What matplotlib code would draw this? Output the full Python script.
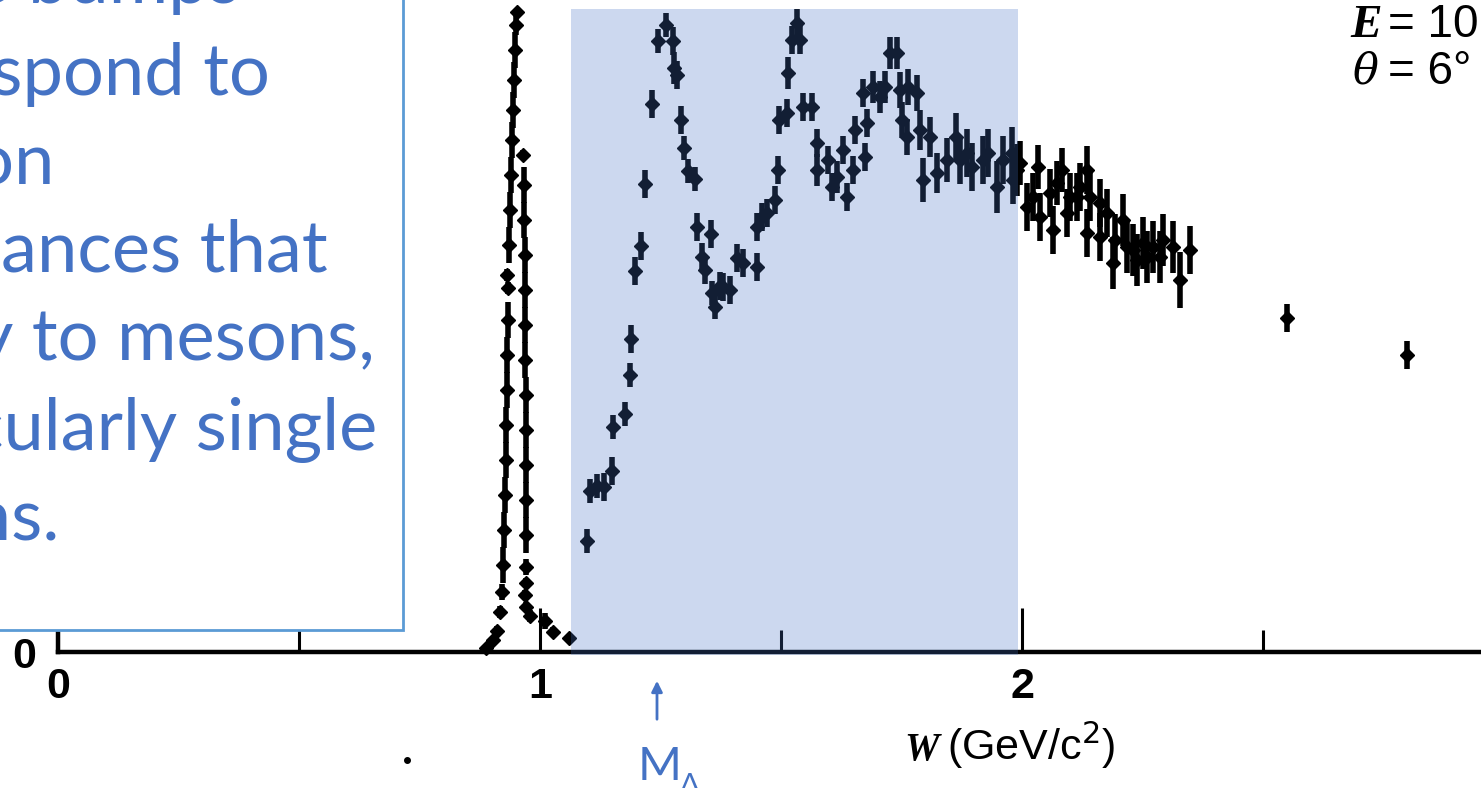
import matplotlib.pyplot as plt
from matplotlib.patches import Rectangle, FancyArrowPatch

# elastic peak (W in GeV/c^2, cross section in arbitrary units)
w_el = [0.888, 0.902, 0.911, 0.917, 0.921, 0.923, 0.925, 0.927, 0.929, 0.929,
        0.932, 0.932, 0.934, 0.934, 0.932, 0.936, 0.938, 0.940, 0.942, 0.944,
        0.946, 0.948, 0.950, 0.952,
        0.965, 0.967, 0.967, 0.969, 0.969, 0.969, 0.969, 0.971, 0.971, 0.971,
        0.971, 0.971, 0.971, 0.971, 0.969, 0.971, 0.979, 1.010, 1.027, 1.060]
y_el = [0.04, 0.12, 0.21, 0.40, 0.60, 0.87, 1.22, 1.57, 1.92, 2.27,
        2.62, 2.97, 3.32, 3.64, 3.77, 4.07, 4.42, 4.77, 5.12, 5.42,
        5.72, 6.02, 6.27, 6.40,
        4.97, 4.67, 4.32, 3.97, 3.62, 3.27, 2.92, 2.57, 2.22, 1.87,
        1.52, 1.17, 0.85, 0.69, 0.57, 0.45, 0.36, 0.31, 0.20, 0.14]
e_el = [0.03, 0.04, 0.05, 0.06, 0.08, 0.18, 0.18, 0.18, 0.18, 0.18,
        0.18, 0.18, 0.18, 0.06, 0.06, 0.18, 0.18, 0.18, 0.18, 0.18,
        0.18, 0.18, 0.10, 0.04,
        0.05, 0.18, 0.18, 0.18, 0.18, 0.18, 0.18, 0.18, 0.18, 0.18,
        0.18, 0.18, 0.08, 0.05, 0.05, 0.05, 0.06, 0.08, 0.05, 0.04]

# inelastic region
w_in = [1.098, 1.104, 1.118, 1.133, 1.149, 1.151, 1.176, 1.187, 1.189, 1.197,
        1.210, 1.218, 1.232, 1.245, 1.261, 1.276, 1.278, 1.284, 1.293, 1.299,
        1.307, 1.322, 1.326, 1.336, 1.342, 1.355, 1.357, 1.363, 1.373, 1.380,
        1.394, 1.409, 1.421, 1.450, 1.450, 1.461, 1.471, 1.488, 1.494, 1.496,
        1.512, 1.515, 1.523, 1.533, 1.539, 1.546, 1.564, 1.575, 1.575, 1.598,
        1.606, 1.616, 1.629, 1.637, 1.649, 1.654, 1.670, 1.674, 1.678, 1.691,
        1.705, 1.716, 1.726, 1.741, 1.747, 1.751, 1.763, 1.761, 1.782, 1.788,
        1.795, 1.809, 1.824, 1.844, 1.863, 1.871, 1.886, 1.896, 1.919, 1.929,
        1.948, 1.961, 1.979, 1.990, 1.981, 1.996, 2.010, 2.023, 2.033, 2.037,
        2.058, 2.064, 2.073, 2.083, 2.093, 2.100, 2.114, 2.120, 2.135, 2.135,
        2.141, 2.162, 2.162, 2.176, 2.189, 2.193, 2.210, 2.218, 2.230, 2.239,
        2.251, 2.259, 2.272, 2.286, 2.293, 2.313, 2.328, 2.349, 2.550, 2.799]
y_in = [1.11, 1.61, 1.66, 1.65, 1.81, 2.25, 2.38, 2.77, 3.13, 3.81,
        4.06, 4.68, 5.48, 6.11, 6.27, 6.11, 5.84, 5.77, 5.32, 5.04,
        4.81, 4.73, 4.25, 3.95, 3.82, 4.18, 3.59, 3.45, 3.66, 3.65,
        3.62, 3.94, 3.89, 3.85, 4.25, 4.35, 4.39, 4.52, 4.82, 5.32,
        5.39, 5.79, 6.12, 6.29, 6.12, 5.45, 5.45, 5.09, 4.82, 4.92,
        4.65, 4.75, 5.02, 4.55, 4.82, 5.22, 5.59, 4.95, 5.29, 5.65,
        5.55, 5.65, 5.99, 5.99, 5.62, 5.32, 5.65, 5.15, 5.59, 5.22,
        4.72, 5.15, 4.79, 4.92, 5.15, 4.92, 4.99, 4.85, 4.92, 4.99,
        4.65, 4.92, 4.99, 4.82, 4.72, 4.89, 4.45, 4.55, 4.85, 4.35,
        4.59, 4.22, 4.69, 4.82, 4.39, 4.55, 4.55, 4.65, 4.82, 4.19,
        4.55, 4.49, 4.15, 4.39, 3.89, 4.12, 4.32, 4.05, 4.02, 3.92,
        4.09, 3.95, 4.05, 3.95, 4.12, 4.05, 3.72, 4.02, 3.34, 2.97]
e_in = [0.12, 0.12, 0.12, 0.14, 0.14, 0.12, 0.12, 0.12, 0.14, 0.14,
        0.14, 0.14, 0.14, 0.12, 0.12, 0.14, 0.16, 0.14, 0.14, 0.12,
        0.12, 0.12, 0.14, 0.14, 0.14, 0.14, 0.12, 0.12, 0.14, 0.14,
        0.14, 0.14, 0.14, 0.14, 0.14, 0.14, 0.14, 0.14, 0.14, 0.14,
        0.14, 0.16, 0.14, 0.14, 0.14, 0.14, 0.14, 0.14, 0.16, 0.14,
        0.14, 0.16, 0.14, 0.14, 0.14, 0.14, 0.14, 0.14, 0.14, 0.16,
        0.16, 0.16, 0.16, 0.16, 0.18, 0.18, 0.18, 0.18, 0.18, 0.20,
        0.22, 0.20, 0.20, 0.22, 0.24, 0.24, 0.24, 0.24, 0.24, 0.24,
        0.26, 0.24, 0.26, 0.26, 0.24, 0.22, 0.24, 0.24, 0.22, 0.24,
        0.24, 0.24, 0.22, 0.22, 0.24, 0.24, 0.24, 0.24, 0.24, 0.24,
        0.24, 0.24, 0.24, 0.24, 0.26, 0.26, 0.26, 0.26, 0.26, 0.26,
        0.26, 0.26, 0.26, 0.26, 0.26, 0.26, 0.28, 0.24, 0.14, 0.14]

stray_w = [0.724]
stray_y = [-1.08]

shade_lo, shade_hi = 1.064, 1.992

note_lines = ["These bumps", "correspond to", "nucleon", "resonances that",
              "decay to mesons,", "particularly single", "pions."]

BLUE = "#4472C4"
W_PX, H_PX = 1481, 788


def fx(px):
    return px / W_PX


def fy(py):
    return 1 - py / H_PX


fig = plt.figure(figsize=(14.81, 7.88), dpi=100)
ax = fig.add_axes([fx(58), fy(652), 1 - fx(58), fy(0) - fy(652)])
ax.set_xlim(0, 2.952)
ax.set_ylim(0, 6.52)
ax.patch.set_alpha(0)

for s in ["top", "right"]:
    ax.spines[s].set_visible(False)
for s in ["bottom", "left"]:
    ax.spines[s].set_linewidth(3.2)

ax.set_xticks([0, 1, 2])
ax.set_xticklabels(["0", "1", "2"])
ax.set_xticks([0.5, 1.5, 2.5], minor=True)
ax.tick_params(axis="x", which="major", direction="in", length=32, width=2.2,
               pad=11, labelsize=31)
ax.tick_params(axis="x", which="minor", direction="in", length=16, width=2.2)
ax.set_yticks([0])
ax.set_yticklabels(["0"])
ax.tick_params(axis="y", length=0, pad=16, labelsize=31)
for lab in ax.get_xticklabels() + ax.get_yticklabels():
    lab.set_family("Liberation Sans")
    lab.set_weight("bold")

# measured points
kw = dict(fmt="D", ms=7, color="black", ecolor="black", elinewidth=4,
          capsize=0, clip_on=False, zorder=3)
ax.errorbar(w_el, y_el, yerr=e_el, **kw)
ax.errorbar(w_in, y_in, yerr=e_in, **kw)
ax.plot(stray_w, stray_y, "o", ms=4, color="black", clip_on=False)

# highlighted resonance region
ax.add_patch(Rectangle((shade_lo, -0.03), shade_hi - shade_lo, 6.46,
                       facecolor=BLUE, alpha=0.27, lw=0, zorder=5,
                       clip_on=False))

# note box on the left
ax.add_patch(Rectangle((-0.5, 0.22), 0.5 + 0.716, 7.0, facecolor="white",
                       edgecolor="#5B9BD5", lw=2, zorder=6, clip_on=False))
right_ends = [240, 270, 55, 328, 375, 377, 60]
baselines = [3, 95, 183, 272, 360, 450, 540]
for txt, xr, yb in zip(note_lines, right_ends, baselines):
    fig.text(fx(xr), fy(yb), txt, ha="right", va="baseline", color=BLUE,
             family="Lato", fontsize=52, zorder=7)

# axis title
fig.text(fx(904), fy(760), "W", family="Liberation Serif", style="italic",
         weight="bold", fontsize=28, va="baseline")
fig.text(fx(947), fy(760), "(GeV/c$^{2}$)", family="Liberation Sans",
         fontsize=31, va="baseline")

# run conditions
fig.text(fx(1350), fy(37), "E", family="Liberation Serif", style="italic",
         weight="bold", fontsize=34, va="baseline")
fig.text(fx(1388), fy(37), "= 10 GeV", family="Liberation Sans",
         fontsize=33, va="baseline")
fig.text(fx(1352), fy(84), "\u03b8", family="DejaVu Serif", style="italic",
         fontsize=31, va="baseline")
fig.text(fx(1388), fy(84), "= 6\u00b0", family="Liberation Sans",
         fontsize=33, va="baseline")

# Delta mass marker
fig.add_artist(FancyArrowPatch((fx(657), fy(722)), (fx(657), fy(678)),
                               transform=fig.transFigure, arrowstyle="-|>",
                               mutation_scale=16, color=BLUE, lw=2))
fig.text(fx(638), fy(780), "M", color=BLUE, family="Lato", fontsize=34,
         va="baseline")
fig.text(fx(680), fy(794), "\u0394", color=BLUE, family="Lato", fontsize=21,
         va="baseline")

fig.savefig("out.png", dpi=100)
